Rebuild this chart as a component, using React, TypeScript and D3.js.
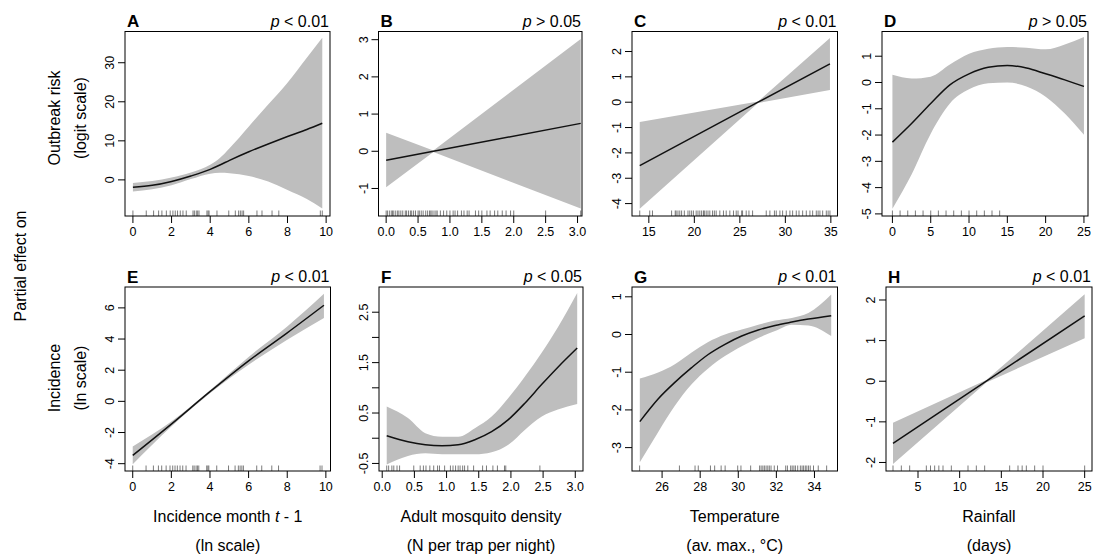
import * as d3 from "d3";

const FONT = "'Liberation Sans', Arial, Helvetica, sans-serif";

// A / E : incidence month t-1 (ln scale)
const incidenceRug = [0, 0.69, 1.07, 1.33, 1.5, 1.73, 1.93, 2.07, 2.19, 2.31, 2.45, 2.59, 2.76, 3.11, 3.18, 3.28, 3.35, 3.42, 3.83, 3.89, 3.94, 4.35, 4.96, 5.3, 5.47, 5.56, 5.65, 5.73, 6.42, 6.68, 7.2, 7.55, 9.7, 9.8];

const outbreakIncX = [0, 1, 2, 3, 4, 4.5, 5, 6, 7, 8, 9, 9.8];
const outbreakIncFit = [-1.9, -1.4, -0.4, 1.0, 2.7, 3.8, 5.0, 7.2, 9.2, 11.1, 12.9, 14.5];
const outbreakIncUpper = [-0.8, -0.3, 0.6, 1.9, 3.9, 5.6, 8.1, 13.7, 19.3, 24.9, 31.3, 36.4];
const outbreakIncLower = [-3.0, -2.4, -1.4, 0.2, 1.6, 1.8, 1.7, 1.0, -0.4, -2.6, -4.9, -7.3];

// B / F : adult mosquito density
const outbreakMosqX = [0, 0.74, 3.05];
const outbreakMosqFit = [-0.24, 0, 0.75];
const outbreakMosqUpper = [0.5, 0.02, 3.02];
const outbreakMosqLower = [-0.97, -0.02, -1.54];
const outbreakMosqRug = [0.0, 0.02, 0.05, 0.08, 0.1, 0.12, 0.15, 0.18, 0.2, 0.23, 0.26, 0.3, 0.32, 0.35, 0.38, 0.4, 0.43, 0.46, 0.5, 0.52, 0.55, 0.58, 0.62, 0.65, 0.68, 0.7, 0.72, 0.75, 0.78, 0.8, 0.85, 0.9, 0.95, 1.0, 1.05, 1.08, 1.12, 1.18, 1.22, 1.27, 1.3, 1.4, 1.45, 1.5, 1.58, 1.63, 1.7, 1.75, 1.82, 1.88, 1.95, 2.0, 2.5, 3.05];

// C / G : temperature
const outbreakTempX = [14, 27, 34.9];
const outbreakTempFit = [-2.5, 0, 1.51];
const outbreakTempUpper = [-0.78, 0.03, 2.53];
const outbreakTempLower = [-4.2, -0.03, 0.48];
const outbreakTempRug = [14.0, 15.1, 15.4, 17.5, 17.9, 18.0, 18.2, 18.4, 18.6, 18.9, 19.3, 19.5, 19.7, 19.9, 20.2, 20.4, 20.6, 20.8, 21.0, 21.1, 21.3, 21.5, 21.7, 22.0, 22.2, 22.4, 22.8, 23.2, 23.5, 23.9, 24.3, 24.6, 24.8, 25.2, 25.3, 25.7, 26.0, 26.4, 27.9, 28.3, 28.8, 29.0, 29.4, 29.7, 30.1, 30.5, 30.8, 31.2, 31.5, 31.9, 32.3, 32.7, 33.0, 33.4, 33.6, 33.8, 34.1, 34.5, 34.7, 34.9];

// D / H : rainfall days
const outbreakRainX = [0, 2.5, 5, 7.5, 10, 12.5, 15, 17.5, 20, 22.5, 25];
const outbreakRainFit = [-2.27, -1.56, -0.8, -0.09, 0.33, 0.58, 0.65, 0.55, 0.33, 0.1, -0.15];
const outbreakRainUpper = [0.29, 0.15, 0.22, 0.68, 1.09, 1.28, 1.35, 1.32, 1.26, 1.45, 1.73];
const outbreakRainLower = [-4.8, -3.5, -1.95, -0.8, -0.26, -0.03, 0, -0.15, -0.54, -1.18, -1.99];
const outbreakRainRug = [0, 1, 2, 3, 4, 5, 6, 7, 8, 9, 10, 11, 12, 13, 14];

const incidenceIncX = [0, 2, 4, 6, 8, 9.9];
const incidenceIncFit = [-3.47, -1.46, 0.62, 2.6, 4.4, 6.17];
const incidenceIncUpper = [-2.89, -1.3, 0.72, 2.85, 4.8, 6.9];
const incidenceIncLower = [-4.03, -1.62, 0.52, 2.35, 3.95, 5.35];

const incidenceMosqX = [0.07, 0.4, 0.67, 0.93, 1.18, 1.44, 1.7, 1.96, 2.22, 2.48, 2.73, 3.03];
const incidenceMosqFit = [0.05, -0.07, -0.13, -0.15, -0.13, -0.03, 0.13, 0.37, 0.7, 1.07, 1.41, 1.79];
const incidenceMosqUpper = [0.63, 0.4, 0.1, 0.03, 0.03, 0.2, 0.43, 0.8, 1.23, 1.7, 2.2, 2.88];
const incidenceMosqLower = [-0.52, -0.35, -0.3, -0.32, -0.32, -0.32, -0.28, -0.13, 0.17, 0.43, 0.57, 0.68];
const incidenceMosqRug = [0.07, 0.1, 0.15, 0.18, 0.23, 0.27, 0.49, 0.59, 0.64, 0.68, 0.74, 0.8, 0.86, 0.89, 0.97, 1.06, 1.1, 1.14, 1.18, 1.21, 1.25, 1.28, 1.33, 1.42, 1.56, 1.62, 1.72, 1.79, 1.9, 1.92, 2.45];

const incidenceTempX = [24.83, 25.79, 26.67, 27.55, 28.42, 29.3, 30.18, 31.05, 31.93, 32.81, 33.68, 34.88];
const incidenceTempFit = [-2.31, -1.71, -1.27, -0.88, -0.53, -0.26, -0.04, 0.12, 0.24, 0.33, 0.41, 0.5];
const incidenceTempUpper = [-1.17, -1.01, -0.79, -0.48, -0.2, 0, 0.13, 0.26, 0.37, 0.44, 0.57, 1.06];
const incidenceTempLower = [-3.39, -2.59, -1.89, -1.32, -0.9, -0.57, -0.31, -0.09, 0.09, 0.26, 0.24, -0.04];
const incidenceTempRug = [24.82, 26.91, 27.73, 27.9, 28.54, 28.76, 29.1, 29.31, 29.97, 30.14, 30.65, 31.12, 31.2, 31.29, 31.37, 31.46, 31.55, 31.63, 31.72, 31.89, 32.06, 32.49, 32.58, 32.75, 32.83, 32.92, 33.0, 33.12, 33.26, 33.35, 33.43, 33.52, 33.6, 33.69, 33.78, 33.95, 34.2, 34.64];

const incidenceRainX = [2, 13.2, 25];
const incidenceRainFit = [-1.53, 0, 1.61];
const incidenceRainUpper = [-1.02, 0.03, 2.14];
const incidenceRainLower = [-2.04, -0.03, 1.06];
const incidenceRainRug = [2, 3, 4, 6, 6.5, 7, 7.5, 8, 9, 11, 12, 13, 16, 17, 17.5, 18, 19, 20, 25];

const letters = ["A", "B", "C", "D", "E", "F", "G", "H"];
const pTexts = ["< 0.01", "> 0.05", "< 0.01", "> 0.05", "< 0.01", "< 0.05", "< 0.01", "< 0.01"];
const xTitles = [
  ["Incidence month ", "t", " - 1", "(ln scale)"],
  ["Adult mosquito density", "", "", "(N per trap per night)"],
  ["Temperature", "", "", "(av. max., \u00B0C)"],
  ["Rainfall", "", "", "(days)"],
];

type Panel = {
  box: [number, number, number, number];
  xDomain: [number, number];
  yDomain: [number, number];
  xTicks: number[];
  yTicks: number[];
  yLabelled?: number[];
  xFmt?: (v: number) => string;
  xs: number[];
  fit: number[];
  upper: number[];
  lower: number[];
  rug: number[];
  linear?: boolean;
};

const TOP = [31.5, 216];
const BOT = [287, 471];
const rng = (a: number, b: number, s: number) => d3.range(a, b + s / 2, s);
const f1 = (v: number) => v.toFixed(1);

const panels: Panel[] = [
  { box: [125, 330, TOP[0], TOP[1]], xDomain: [-0.41, 10.2], yDomain: [-9.25, 38.0], xTicks: rng(0, 10, 2), yTicks: [0, 10, 20, 30],
    xs: outbreakIncX, fit: outbreakIncFit, upper: outbreakIncUpper, lower: outbreakIncLower, rug: incidenceRug },
  { box: [378.5, 582, TOP[0], TOP[1]], xDomain: [-0.12, 3.07], yDomain: [-1.74, 3.22], xTicks: rng(0, 3, 0.5), yTicks: [-1, 0, 1, 2, 3], xFmt: f1,
    xs: outbreakMosqX, fit: outbreakMosqFit, upper: outbreakMosqUpper, lower: outbreakMosqLower, rug: outbreakMosqRug, linear: true },
  { box: [632, 837.5, TOP[0], TOP[1]], xDomain: [13.15, 35.73], yDomain: [-4.49, 2.79], xTicks: rng(15, 35, 5), yTicks: rng(-4, 2, 1),
    xs: outbreakTempX, fit: outbreakTempFit, upper: outbreakTempUpper, lower: outbreakTempLower, rug: outbreakTempRug, linear: true },
  { box: [882, 1088, TOP[0], TOP[1]], xDomain: [-1.36, 25.53], yDomain: [-5.08, 1.94], xTicks: rng(0, 25, 5), yTicks: rng(-5, 1, 1),
    xs: outbreakRainX, fit: outbreakRainFit, upper: outbreakRainUpper, lower: outbreakRainLower, rug: outbreakRainRug },
  { box: [125, 330.5, BOT[0], BOT[1]], xDomain: [-0.4, 10.24], yDomain: [-4.47, 7.34], xTicks: rng(0, 10, 2), yTicks: rng(-4, 6, 2),
    xs: incidenceIncX, fit: incidenceIncFit, upper: incidenceIncUpper, lower: incidenceIncLower, rug: incidenceRug },
  { box: [379, 583, BOT[0], BOT[1]], xDomain: [-0.05, 3.12], yDomain: [-0.65, 3.0], xTicks: rng(0, 3, 0.5), yTicks: rng(-0.5, 2.5, 0.5), yLabelled: [-0.5, 0.5, 1.5, 2.5], xFmt: f1,
    xs: incidenceMosqX, fit: incidenceMosqFit, upper: incidenceMosqUpper, lower: incidenceMosqLower, rug: incidenceMosqRug },
  { box: [632, 837.5, BOT[0], BOT[1]], xDomain: [24.42, 35.21], yDomain: [-3.62, 1.26], xTicks: rng(26, 34, 2), yTicks: rng(-3, 1, 1),
    xs: incidenceTempX, fit: incidenceTempFit, upper: incidenceTempUpper, lower: incidenceTempLower, rug: incidenceTempRug },
  { box: [886, 1092, BOT[0], BOT[1]], xDomain: [1.16, 25.88], yDomain: [-2.21, 2.32], xTicks: rng(5, 25, 5), yTicks: rng(-2, 2, 1),
    xs: incidenceRainX, fit: incidenceRainFit, upper: incidenceRainUpper, lower: incidenceRainLower, rug: incidenceRainRug, linear: true },
];

function PanelPlot({ p, i }: { p: Panel; i: number }) {
  const [x0, x1, y0, y1] = p.box;
  const x = d3.scaleLinear().domain(p.xDomain).range([x0, x1]);
  const y = d3.scaleLinear().domain(p.yDomain).range([y1, y0]);
  const curve = p.linear ? d3.curveLinear : d3.curveMonotoneX;
  const idx = d3.range(p.xs.length);
  const area = d3
    .area<number>()
    .x((k) => x(p.xs[k]))
    .y0((k) => y(p.lower[k]))
    .y1((k) => y(p.upper[k]))
    .curve(curve);
  const line = d3
    .line<number>()
    .x((k) => x(p.xs[k]))
    .y((k) => y(p.fit[k]))
    .curve(curve);
  const fmt = p.xFmt || ((v: number) => String(v));
  const labelled = p.yLabelled || p.yTicks;
  const tick = 7;
  return (
    <g>
      <path d={area(idx) || ""} fill="#bebebe" stroke="none" />
      <path d={line(idx) || ""} fill="none" stroke="#111" strokeWidth={1.5} />
      {/* rug */}
      {p.rug.map((r, k) => (
        <line key={"r" + k} x1={x(r)} x2={x(r)} y1={y1} y2={y1 - 5.5} stroke="#444" strokeWidth={0.7} />
      ))}
      <rect x={x0} y={y0} width={x1 - x0} height={y1 - y0} fill="none" stroke="#000" strokeWidth={1} />
      {/* x axis */}
      {p.xTicks.map((t, k) => (
        <g key={"x" + k}>
          <line x1={x(t)} x2={x(t)} y1={y1} y2={y1 + tick} stroke="#000" />
          <text x={x(t)} y={y1 + 20} textAnchor="middle" fontSize={12.5}>
            {fmt(t)}
          </text>
        </g>
      ))}
      {/* y axis */}
      {p.yTicks.map((t, k) => (
        <g key={"y" + k}>
          <line x1={x0} x2={x0 - tick} y1={y(t)} y2={y(t)} stroke="#000" />
          {labelled.some((l) => Math.abs(l - t) < 1e-9) && (
            <text transform={`translate(${x0 - 11},${y(t)}) rotate(-90)`} textAnchor="middle" fontSize={12.5}>
              {String(t)}
            </text>
          )}
        </g>
      ))}
      <text x={x0 + 2} y={y0 - 4.5} fontSize={17} fontWeight="bold">
        {letters[i]}
      </text>
      <text x={x1 - 1} y={y0 - 5} textAnchor="end" fontSize={16}>
        <tspan fontStyle="italic">p</tspan>
        {" " + pTexts[i]}
      </text>
    </g>
  );
}

export default function App() {
  return (
    <div style={{ position: "absolute", left: 0, top: 0 }}>
      <svg width={1094} height={558} style={{ display: "block", background: "#fff", fontFamily: FONT }}>
        {panels.map((p, i) => (
          <PanelPlot key={i} p={p} i={i} />
        ))}
        {/* x titles under bottom row */}
        {xTitles.map((t, c) => {
          const b = panels[c + 4].box;
          const cx = (b[0] + b[1]) / 2;
          return (
            <g key={"xt" + c} fontSize={16}>
              <text x={cx} y={522} textAnchor="middle">
                {t[0]}
                {t[1] && <tspan fontStyle="italic">{t[1]}</tspan>}
                {t[2]}
              </text>
              <text x={cx} y={551} textAnchor="middle">
                {t[3]}
              </text>
            </g>
          );
        })}
        {/* y titles */}
        <g fontSize={16} textAnchor="middle">
          <text transform="translate(26,266) rotate(-90)">Partial effect on</text>
          <text transform="translate(60,118) rotate(-90)">Outbreak risk</text>
          <text transform="translate(86,118) rotate(-90)">(logit scale)</text>
          <text transform="translate(60,378) rotate(-90)">Incidence</text>
          <text transform="translate(86,378) rotate(-90)">(ln scale)</text>
        </g>
      </svg>
    </div>
  );
}
